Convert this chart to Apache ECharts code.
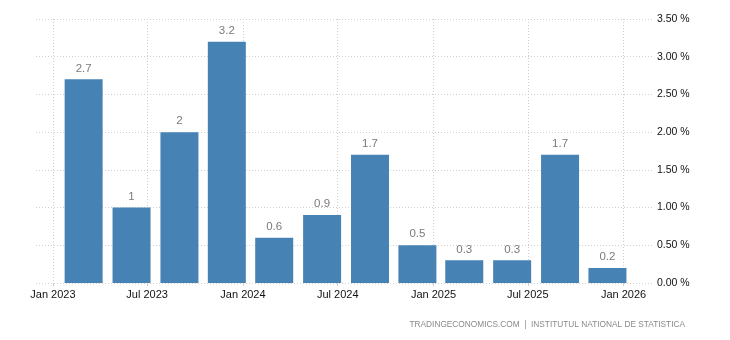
<!DOCTYPE html>
<html>
<head>
<meta charset="utf-8">
<style>
  html, body { margin: 0; padding: 0; background: #fff; }
  #chart { width: 730px; height: 340px; }
</style>
<script src="https://cdn.jsdelivr.net/npm/echarts@6/dist/echarts.min.js"></script>
</head>
<body>
<div id="chart"></div>
<script>
// Quarterly GDP growth, plotted at the last month of each quarter
const periods = [
  '2023-03-01', '2023-06-01', '2023-09-01', '2023-12-01',
  '2024-03-01', '2024-06-01', '2024-09-01', '2024-12-01',
  '2025-03-01', '2025-06-01', '2025-09-01', '2025-12-01'
];
const growth = [2.7, 1, 2, 3.2, 0.6, 0.9, 1.7, 0.5, 0.3, 0.3, 1.7, 0.2];
const monthNames = ['Jan', 'Feb', 'Mar', 'Apr', 'May', 'Jun', 'Jul', 'Aug', 'Sep', 'Oct', 'Nov', 'Dec'];
const yTicks = { min: 0, max: 3.5, step: 0.5 };
const sourceText = 'TRADINGECONOMICS.COM  |  INSTITUTUL NATIONAL DE STATISTICA';

const chart = echarts.init(document.getElementById('chart'), null, { renderer: 'canvas' });
const day = 24 * 3600 * 1000;
const dotted = { color: '#cfcfcf', type: [1, 2], width: 1 };

chart.setOption({
  animation: false,
  grid: { left: 36, right: 77, top: 19, bottom: 57 },
  xAxis: {
    type: 'time',
    // the axis pads itself by half a bar on each side
    min: '2023-01-05',
    max: '2026-01-21',
    minInterval: 182 * day,
    maxInterval: 186 * day,
    axisLine: { show: false },
    axisTick: { show: true, length: 3, lineStyle: { color: '#cfcfcf' } },
    splitLine: { show: true, showMinLine: false, showMaxLine: false, lineStyle: dotted },
    axisLabel: {
      margin: 6,
      fontFamily: 'Liberation Sans, Arial, sans-serif',
      fontSize: 11,
      color: '#111',
      showMinLabel: false,
      showMaxLabel: false,
      formatter: function (val) {
        const d = new Date(val);
        return monthNames[d.getMonth()] + ' ' + d.getFullYear();
      }
    }
  },
  yAxis: {
    type: 'value',
    position: 'right',
    min: yTicks.min,
    max: yTicks.max,
    interval: yTicks.step,
    axisLine: { show: false },
    axisTick: { show: false },
    splitLine: { show: true, lineStyle: dotted },
    axisLabel: {
      margin: 4,
      fontFamily: 'Liberation Sans, Arial, sans-serif',
      fontSize: 10.5,
      color: '#111',
      formatter: function (v) { return v.toFixed(2) + ' %'; }
    }
  },
  series: [{
    type: 'bar',
    barWidth: 38,
    data: periods.map((p, i) => [p, growth[i]]),
    itemStyle: { color: '#4682B4' },
    label: {
      show: true,
      position: 'top',
      distance: 5,
      fontFamily: 'Liberation Sans, Arial, sans-serif',
      fontSize: 11.5,
      color: '#7a7a7a',
      formatter: function (p) { return String(p.value[1]); }
    }
  }],
  graphic: [{
    type: 'text',
    right: 45,
    top: 321,
    style: {
      text: sourceText,
      fontFamily: 'Liberation Sans, Arial, sans-serif',
      fontSize: 8.3,
      fill: '#8a8a8a'
    }
  }]
});
</script>
</body>
</html>
